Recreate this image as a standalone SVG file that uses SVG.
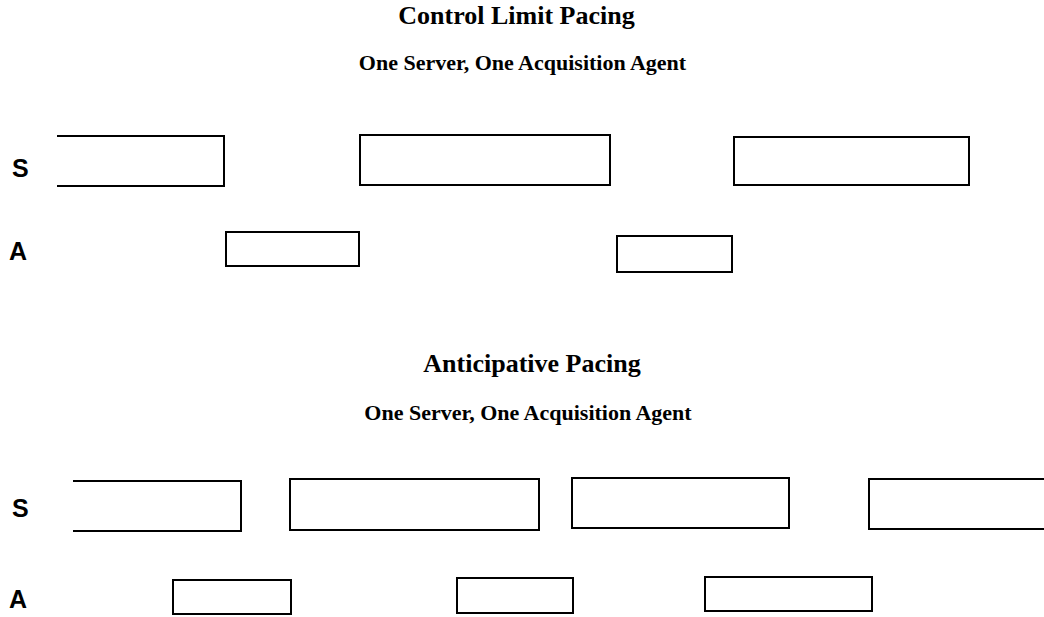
<svg xmlns="http://www.w3.org/2000/svg" width="1044" height="617" viewBox="0 0 1044 617">
<style>
.t{font-family:"Liberation Serif",serif;font-weight:bold;text-anchor:middle;fill:#000}
.l{font-family:"Liberation Sans",sans-serif;font-weight:bold;font-size:25px;fill:#000}
.b{fill:none;stroke:#000;stroke-width:2}
</style>
<rect width="1044" height="617" fill="#fff"/>
<g id="title1"><text class="t" x="516.5" y="24" font-size="26">Control Limit Pacing</text>
<text class="t" x="522.5" y="70" font-size="22">One Server, One Acquisition Agent</text></g>
<g id="title2"><text class="t" x="532" y="372" font-size="26">Anticipative Pacing</text>
<text class="t" x="528" y="420" font-size="22">One Server, One Acquisition Agent</text></g>
<g id="labels">
<text class="l" x="12" y="177">S</text>
<text class="l" x="9" y="260">A</text>
<text class="l" x="12" y="517">S</text>
<text class="l" x="9" y="608">A</text>
</g>
<g id="s1a"><path class="b" d="M57,136 H224 V186 H57"/></g>
<g id="s1b"><rect class="b" x="360" y="135" width="250" height="50"/></g>
<g id="s1c"><rect class="b" x="734" y="137" width="235" height="48"/></g>
<g id="a1a"><rect class="b" x="226" y="232" width="133" height="34"/></g>
<g id="a1b"><rect class="b" x="617" y="236" width="115" height="36"/></g>
<g id="s2a"><path class="b" d="M73,481 H241 V531 H73"/></g>
<g id="s2b"><rect class="b" x="290" y="479" width="249" height="51"/></g>
<g id="s2c"><rect class="b" x="572" y="478" width="217" height="50"/></g>
<g id="s2d"><path class="b" d="M1044,479 H869 V529 H1044"/></g>
<g id="a2a"><rect class="b" x="173" y="580" width="118" height="34"/></g>
<g id="a2b"><rect class="b" x="457" y="578" width="116" height="35"/></g>
<g id="a2c"><rect class="b" x="705" y="577" width="167" height="34"/></g>
<g id="connectors"></g>
</svg>
